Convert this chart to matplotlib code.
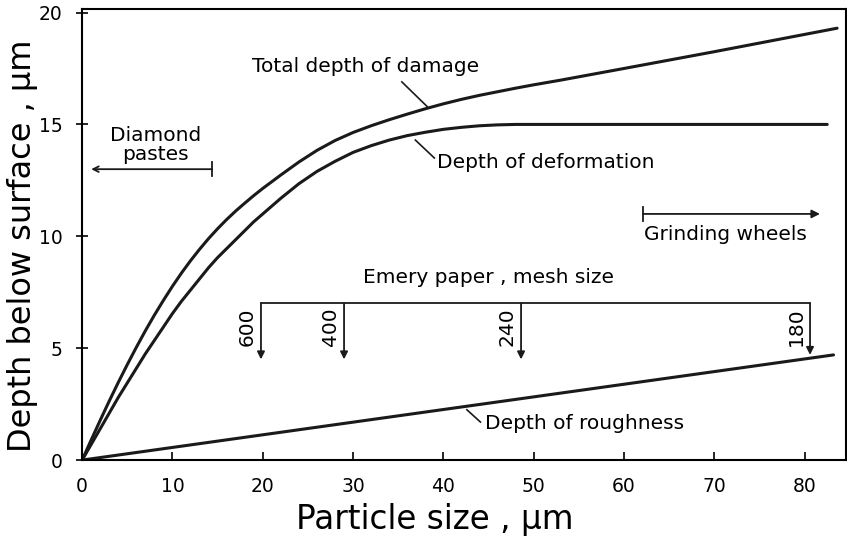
import matplotlib.pyplot as plt

# Particle size (um) vs depth below surface (um)
total_x = [0, 1, 2, 3, 4, 5, 6, 7, 8, 9, 10, 11, 12, 13, 14, 15, 16, 17, 18, 19, 20,
           22, 24, 26, 28, 30, 32, 34, 36, 38, 40, 42, 44, 46, 48, 50, 53, 60, 70, 83.6]
total_y = [0, 0.9, 1.78, 2.64, 3.47, 4.27, 5.04, 5.78, 6.48, 7.14, 7.77, 8.36, 8.91,
           9.42, 9.9, 10.34, 10.75, 11.13, 11.48, 11.82, 12.14, 12.74, 13.32, 13.84,
           14.28, 14.64, 14.94, 15.21, 15.46, 15.7, 15.92, 16.12, 16.3, 16.46, 16.62,
           16.77, 16.98, 17.5, 18.25, 19.3]

deform_x = [0, 1, 2, 3, 4, 5, 6, 7, 8, 9, 10, 11, 12, 13, 14, 15, 16, 17, 18, 19, 20,
            22, 24, 26, 28, 30, 32, 34, 36, 38, 40, 42, 44, 46, 48, 82.5]
deform_y = [0, 0.7, 1.4, 2.1, 2.8, 3.45, 4.1, 4.75, 5.35, 5.95, 6.55, 7.1, 7.6, 8.1,
            8.6, 9.05, 9.45, 9.85, 10.25, 10.65, 11.0, 11.7, 12.35, 12.9, 13.35, 13.75,
            14.05, 14.3, 14.5, 14.65, 14.78, 14.87, 14.94, 14.98, 15.0, 15.0]

rough_x = [0, 83.2]
rough_y = [0, 4.7]

# Emery paper mesh sizes and the particle size each corresponds to
mesh_labels = ['600', '400', '240', '180']
mesh_x = [19.8, 29.0, 48.6, 80.6]
mesh_tip = [4.5, 4.5, 4.5, 4.7]

fig = plt.figure(figsize=(8.47, 5.40), dpi=100)
ax = fig.add_axes([0.097, 0.148, 0.902, 0.835])

ink = '#1a1a1a'
lw = 2.2
ax.plot(total_x, total_y, color=ink, lw=lw, solid_capstyle='round')
ax.plot(deform_x, deform_y, color=ink, lw=lw, solid_capstyle='round')
ax.plot(rough_x, rough_y, color=ink, lw=lw, solid_capstyle='round')

ax.set_xlim(0, 84.6)
ax.set_ylim(0, 20.15)
ax.set_xticks(range(0, 90, 10))
ax.set_yticks([0, 5, 10, 15, 20])
ax.tick_params(axis='x', direction='in', length=6, width=1.2, labelsize=13.5, pad=12)
ax.tick_params(axis='y', direction='inout', length=8, width=1.2, labelsize=13.5, pad=10)
for s in ax.spines.values():
    s.set_linewidth(1.5)

ax.set_xlabel('Particle size , μm', fontsize=23.5)
ax.set_ylabel('Depth below surface , μm', fontsize=23)
ax.xaxis.set_label_coords(0.462, -0.095)
ax.yaxis.set_label_coords(-0.058, 0.475)

fs = 14.5

# curve labels with short leader lines
ax.text(18.8, 17.6, 'Total depth of damage', fontsize=fs, ha='left', va='center')
ax.plot([35.4, 38.2], [16.9, 15.8], color=ink, lw=1.2)
ax.text(39.3, 13.3, 'Depth of deformation', fontsize=fs, ha='left', va='center')
ax.plot([36.9, 39.0], [14.3, 13.5], color=ink, lw=1.2)
ax.text(44.6, 1.65, 'Depth of roughness', fontsize=fs, ha='left', va='center')
ax.plot([42.6, 44.1], [2.25, 1.7], color=ink, lw=1.2)

# diamond pastes range
ax.text(8.1, 14.1, 'Diamond\npastes', fontsize=fs, ha='center', va='center', linespacing=1.0)
ax.annotate('', xy=(1.0, 13.0), xytext=(14.4, 13.0),
            arrowprops=dict(arrowstyle='->', lw=1.3, color=ink, shrinkA=0, shrinkB=0))
ax.plot([14.4, 14.4], [12.7, 13.3], color=ink, lw=1.3)

# grinding wheels range
ax.annotate('', xy=(81.7, 11.0), xytext=(62.1, 11.0),
            arrowprops=dict(arrowstyle='-|>', lw=1.3, color=ink, mutation_scale=12,
                            shrinkA=0, shrinkB=0))
ax.plot([62.1, 62.1], [10.7, 11.3], color=ink, lw=1.3)
ax.text(71.2, 10.1, 'Grinding wheels', fontsize=fs, ha='center', va='center')

# emery paper bracket with mesh size arrows
ax.text(45.0, 8.15, 'Emery paper , mesh size', fontsize=fs, ha='center', va='center')
ax.plot([mesh_x[0], mesh_x[-1]], [7.0, 7.0], color=ink, lw=1.3)
for lab, mx, tip in zip(mesh_labels, mesh_x, mesh_tip):
    ax.annotate('', xy=(mx, tip), xytext=(mx, 7.0),
                arrowprops=dict(arrowstyle='-|>', lw=1.3, color=ink, mutation_scale=11,
                                shrinkA=0, shrinkB=0))
    ax.text(mx - 0.5, 5.95, lab, fontsize=fs, rotation=90, ha='right', va='center')

fig.savefig('out.png', dpi=100)
